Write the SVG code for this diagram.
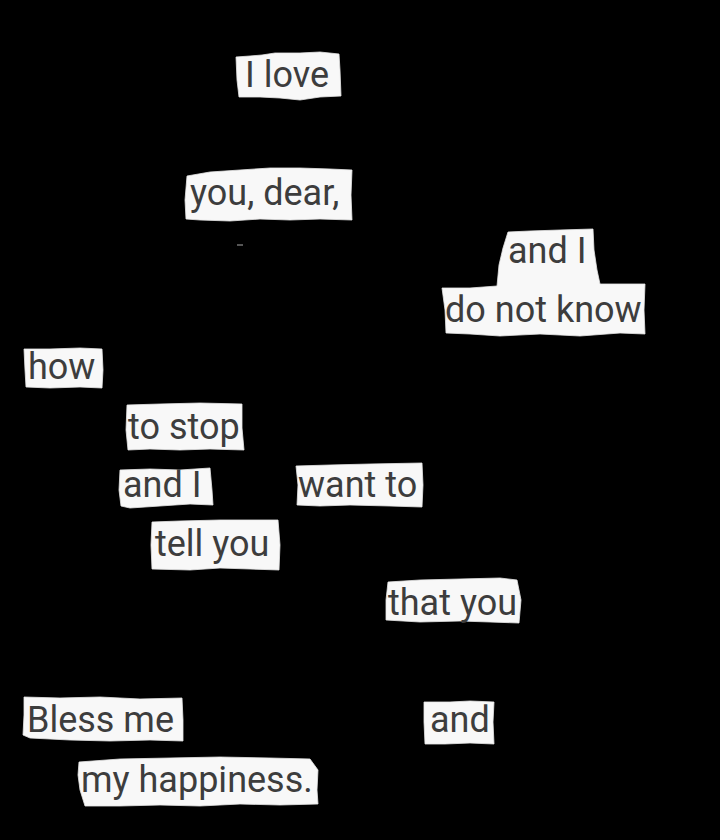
<svg xmlns="http://www.w3.org/2000/svg" width="720" height="840" viewBox="0 0 720 840">
<style>
.paper{fill:#f8f8f8;stroke:#e6e6e6;stroke-width:0.8}
.t{font-family:Roboto,"Liberation Sans",sans-serif;font-size:36px;fill:#3d3d3d}
</style>
<rect width="720" height="840" fill="#000"/>
<rect x="237" y="244" width="6" height="2" fill="#555"/>
<g id="w-ilove">
<path class="paper" d="M236,57 L250,56 L262,55 L275,53 L300,53 L320,52 L339,54 L340,70 L341,96 L320,97 L300,100 L280,98 L260,97 L239,97 L237,80 Z"/>
<text class="t" x="245" y="87">I love</text>
</g>
<g id="w-youdear">
<path class="paper" d="M187,176 L210,172 L240,170 L270,168 L300,168 L330,169 L352,170 L351,195 L352,220 L320,219 L290,220 L260,219 L230,221 L200,220 L186,219 L185,200 Z"/>
<text class="t" x="190" y="205">you, dear,</text>
</g>
<g id="w-andI-donotknow">
<path class="paper" d="M508,232 L530,231 L560,230 L593,229 L594,250 L597,270 L600,284 L620,284 L645,284 L644,310 L645,334 L620,333 L580,336 L540,334 L500,336 L470,334 L446,333 L445,310 L442,288 L470,288 L497,286 L499,265 L503,248 Z"/>
<text class="t" x="508" y="263">and I</text>
<text class="t" x="445" y="322">do not know</text>
</g>
<g id="w-how">
<path class="paper" d="M24,349 L50,349 L80,348 L102,349 L103,370 L102,388 L80,387 L50,388 L26,387 L25,370 Z"/>
<text class="t" x="28" y="379">how</text>
</g>
<g id="w-tostop">
<path class="paper" d="M127,405 L160,404 L200,403 L242,404 L242,428 L244,450 L210,449 L180,450 L150,449 L128,450 L126,430 Z"/>
<text class="t" x="128" y="439">to stop</text>
</g>
<g id="w-andI2">
<path class="paper" d="M120,470 L150,469 L180,470 L210,468 L212,490 L213,505 L190,504 L160,506 L130,508 L121,506 L119,490 Z"/>
<text class="t" x="123" y="497">and I</text>
</g>
<g id="w-wantto">
<path class="paper" d="M296,466 L330,465 L370,464 L422,463 L423,485 L422,507 L390,506 L350,505 L320,506 L297,505 L298,485 Z"/>
<text class="t" x="298" y="497">want to</text>
</g>
<g id="w-tellyou">
<path class="paper" d="M152,522 L180,521 L220,520 L278,520 L280,545 L279,570 L250,569 L220,568 L190,570 L152,569 L151,545 Z"/>
<text class="t" x="155" y="556">tell you</text>
</g>
<g id="w-thatyou">
<path class="paper" d="M388,582 L420,580 L460,579 L500,578 L517,580 L521,600 L519,623 L490,622 L460,621 L420,622 L386,620 L386,600 Z"/>
<text class="t" x="388" y="615">that you</text>
</g>
<g id="w-blessme">
<path class="paper" d="M24,697 L60,698 L100,697 L140,699 L182,698 L183,720 L183,741 L150,740 L110,741 L70,740 L30,738 L23,735 L24,715 Z"/>
<text class="t" x="27" y="732">Bless me</text>
</g>
<g id="w-and3">
<path class="paper" d="M424,702 L450,702 L470,701 L494,702 L493,722 L494,744 L470,743 L445,744 L425,744 L424,722 Z"/>
<text class="t" x="430" y="732">and</text>
</g>
<g id="w-myhappiness">
<path class="paper" d="M79,762 L120,759 L170,758 L220,757 L270,758 L310,759 L318,770 L317,790 L318,804 L280,805 L240,804 L200,806 L160,805 L120,806 L85,806 L80,790 L78,775 Z"/>
<text class="t" x="81" y="792">my happiness.</text>
</g>
</svg>
